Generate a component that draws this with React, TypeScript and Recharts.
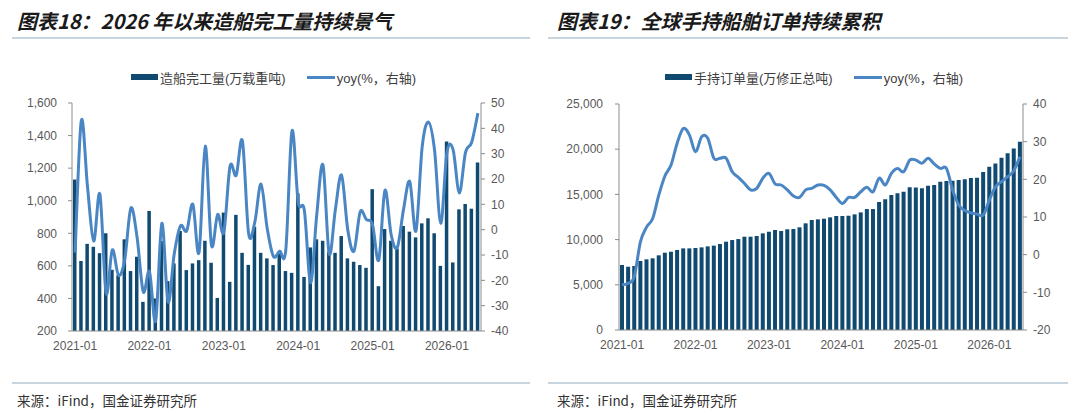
import React from 'react';
import { ComposedChart, Bar, Line, XAxis, YAxis } from 'recharts';

// Monthly categories, 2021-01 .. 2026-06
const months = [
  '2021-01', '2021-02', '2021-03', '2021-04', '2021-05', '2021-06', '2021-07', '2021-08', '2021-09', '2021-10', '2021-11', '2021-12',
  '2022-01', '2022-02', '2022-03', '2022-04', '2022-05', '2022-06', '2022-07', '2022-08', '2022-09', '2022-10', '2022-11', '2022-12',
  '2023-01', '2023-02', '2023-03', '2023-04', '2023-05', '2023-06', '2023-07', '2023-08', '2023-09', '2023-10', '2023-11', '2023-12',
  '2024-01', '2024-02', '2024-03', '2024-04', '2024-05', '2024-06', '2024-07', '2024-08', '2024-09', '2024-10', '2024-11', '2024-12',
  '2025-01', '2025-02', '2025-03', '2025-04', '2025-05', '2025-06', '2025-07', '2025-08', '2025-09', '2025-10', '2025-11', '2025-12',
  '2026-01', '2026-02', '2026-03', '2026-04', '2026-05', '2026-06',
];

// 图表18: 造船完工量 (万载重吨) and yoy (%)
const completionVolume = [
  1130, 630, 735, 717, 678, 800, 576, 543, 763, 568, 656, 379,
  937, 400, 752, 506, 615, 814, 574, 615, 635, 754, 619, 403,
  927, 502, 913, 680, 606, 840, 680, 646, 605, 674, 568, 557,
  1045, 532, 713, 763, 754, 687, 680, 783, 646, 625, 605, 588,
  1071, 475, 826, 754, 707, 845, 810, 775, 861, 892, 800, 600,
  1364, 621, 947, 980, 951, 1234,
];
const completionYoy = [
  -9, 43, 17, -4.5, 14, -25, -8, -18, -12, 8.5, -3, -24.5,
  -16.5, -36, 2.5, -28.5, -9.5, 1.5, -0.5, 10, -9, 33, -6, 6,
  -1, 25, 21.5, 35, -1.5, 3, 18, 0.5, -10.5, -8.5, -8, 39,
  11, 7.5, -21, 6, 25.5, -9.5, 8, 21.5, 0, -8.5, 7, 4,
  2, -12, 15.5, -2, -7, 8, 19, -0.5, 32.5, 42.5, 31.5, 2.5,
  30.5, 31.5, 14.5, 30.5, 34.5, 46,
];

// 图表19: 手持订单量 (万修正总吨) and yoy (%)
const orderbook = [
  7190, 7000, 7080, 7630, 7820, 7930, 8260, 8550, 8660, 8850, 9030, 9030,
  9070, 9140, 9250, 9330, 9510, 9770, 9950, 10060, 10320, 10320, 10400, 10690,
  10870, 11060, 10950, 11140, 11170, 11360, 11800, 12170, 12240, 12310, 12460, 12610,
  12610, 12640, 12790, 13010, 13380, 13380, 14160, 14450, 14930, 15120, 15300, 15780,
  15750, 15670, 15960, 16040, 16400, 16480, 16510, 16590, 16670, 16810, 16840, 17470,
  18060, 18430, 19060, 19540, 20090, 20830,
];
const orderbookYoy = [
  -8, -7.6, -5.8, 3.4, 7.3, 9.6, 15.8, 20.9, 23.8, 29.6, 33.5, 31.8,
  27.3, 31.3, 30.9, 25.6, 25.6, 25.6, 22, 20.5, 18.9, 17.2, 17.6, 20.3,
  21.6, 18.8, 18.5, 17.2, 15.6, 15.2, 17.2, 17.6, 18.5, 18.4, 17.2, 15.2,
  13.6, 15.2, 15.2, 16.7, 17.9, 16.7, 20.3, 18.5, 21.6, 22.9, 22, 25.1,
  25.1, 24.3, 25.6, 24.1, 22.9, 22.9, 17.2, 13.2, 11.7, 11.1, 10.8, 10.5,
  14.5, 18, 19.4, 20.7, 22.3, 26,
];

const completionTicks = [200, 400, 600, 800, 1000, 1200, 1400, 1600];
const completionYoyTicks = [-40, -30, -20, -10, 0, 10, 20, 30, 40, 50];
const orderbookTicks = [0, 5000, 10000, 15000, 20000, 25000];
const orderbookYoyTicks = [-20, -10, 0, 10, 20, 30, 40];

const BAR = '#114a70';
const LINE = '#4a86c4';
const AXIS = '#8c8c8c';
const TICK = { fill: '#595959', fontSize: 12, fontFamily: '"Liberation Sans", Arial, sans-serif' };
const CJK = '"Liberation Sans", "Noto Sans CJK SC", sans-serif';

const completionData = months.map((m, i) => ({ month: m, value: completionVolume[i], yoy: completionYoy[i] }));
const orderbookData = months.map((m, i) => ({ month: m, value: orderbook[i], yoy: orderbookYoy[i] }));

const fmt = (v: number) => v.toLocaleString('en-US');

// Excel-style smoothed line (Catmull-Rom through the points, 1/6 tangents)
function excelSmooth(context: any) {
  let pts: [number, number][] = [];
  return {
    areaStart() {},
    areaEnd() {},
    lineStart() {
      pts = [];
    },
    point(x: number, y: number) {
      pts.push([+x, +y]);
    },
    lineEnd() {
      if (!pts.length) return;
      context.moveTo(pts[0][0], pts[0][1]);
      for (let i = 0; i < pts.length - 1; i++) {
        const p0 = pts[i - 1] || pts[i];
        const p1 = pts[i];
        const p2 = pts[i + 1];
        const p3 = pts[i + 2] || p2;
        context.bezierCurveTo(
          p1[0] + (p2[0] - p0[0]) / 6,
          p1[1] + (p2[1] - p0[1]) / 6,
          p2[0] - (p3[0] - p1[0]) / 6,
          p2[1] - (p3[1] - p1[1]) / 6,
          p2[0],
          p2[1],
        );
      }
    },
  };
}

const abs = (s: React.CSSProperties): React.CSSProperties => ({ position: 'absolute', ...s });

const Legend2 = ({ x, barLabel, lineLabel, gap }: { x: number; barLabel: string; lineLabel: string; gap: number }) => (
  <div style={abs({ left: x, top: 68, height: 18, display: 'flex', alignItems: 'center', fontSize: 13, color: '#404040', fontFamily: CJK, whiteSpace: 'nowrap' })}>
    <span style={{ display: 'inline-block', width: 27, height: 6, background: BAR, marginRight: 2 }} />
    <span>{barLabel}</span>
    <span style={{ display: 'inline-block', width: 28, height: 3, background: LINE, marginLeft: gap, marginRight: 2 }} />
    <span>{lineLabel}</span>
  </div>
);

const Title = ({ x, text, lineX, lineW }: { x: number; text: string; lineX: number; lineW: number }) => (
  <>
    <div style={abs({ left: x, top: 7, fontSize: 20, fontStyle: 'italic', fontWeight: 700, color: '#1a1a1a', fontFamily: '"Noto Sans CJK SC", sans-serif', whiteSpace: 'nowrap', lineHeight: '28px' })}>
      {text}
    </div>
    <div style={abs({ left: lineX, top: 37, width: lineW, height: 2, background: '#c8d5de' })} />
    <div style={abs({ left: lineX, top: 382, width: lineW, height: 1.5, background: '#c8d5de' })} />
    <div style={abs({ left: x, top: 390, fontSize: 13.5, color: '#333', fontFamily: '"Noto Sans CJK SC", sans-serif', whiteSpace: 'nowrap', lineHeight: '20px' })}>
      来源：iFind，国金证券研究所
    </div>
  </>
);

export default function App() {
  return (
    <div style={abs({ left: 0, top: 0, width: 1080, height: 413, background: '#fff', overflow: 'hidden' })}>
      <Title x={17} text="图表18：2026 年以来造船完工量持续景气" lineX={12} lineW={518} />
      <Title x={557} text="图表19：全球手持船舶订单持续累积" lineX={548} lineW={520} />
      <Legend2 x={131} barLabel="造船完工量(万载重吨)" lineLabel="yoy(%，右轴)" gap={21} />
      <Legend2 x={665} barLabel="手持订单量(万修正总吨)" lineLabel="yoy(%，右轴)" gap={21} />

      <div style={abs({ left: 0, top: 0 })}>
        <ComposedChart width={540} height={413} data={completionData} margin={{ top: 103, right: 0, bottom: 52, left: 0 }}>
          <XAxis dataKey="month" interval={11} tick={TICK} tickLine={false} tickSize={0} tickMargin={10} axisLine={{ stroke: AXIS }} height={30} />
          <YAxis yAxisId="left" domain={[200, 1600]} ticks={completionTicks} tickFormatter={fmt} tick={TICK} width={72} tickSize={4} tickMargin={11} axisLine={{ stroke: AXIS }} tickLine={{ stroke: AXIS }} />
          <YAxis yAxisId="right" orientation="right" domain={[-40, 50]} ticks={completionYoyTicks} tick={TICK} width={59} tickSize={4} tickMargin={6} axisLine={{ stroke: AXIS }} tickLine={{ stroke: AXIS }} />
          <Bar yAxisId="left" dataKey="value" fill={BAR} barSize={3.5} isAnimationActive={false} />
          <Line yAxisId="right" dataKey="yoy" type={excelSmooth as any} stroke={LINE} strokeWidth={3} dot={false} isAnimationActive={false} />
        </ComposedChart>
      </div>

      <div style={abs({ left: 540, top: 0 })}>
        <ComposedChart width={540} height={413} data={orderbookData} margin={{ top: 104, right: 0, bottom: 53, left: 0 }}>
          <XAxis dataKey="month" interval={11} tick={TICK} tickLine={false} tickSize={0} tickMargin={10} axisLine={{ stroke: AXIS }} height={30} />
          <YAxis yAxisId="left" domain={[0, 25000]} ticks={orderbookTicks} tickFormatter={fmt} tick={TICK} width={79} tickSize={4} tickMargin={12} axisLine={{ stroke: AXIS }} tickLine={{ stroke: AXIS }} />
          <YAxis yAxisId="right" orientation="right" domain={[-20, 40]} ticks={orderbookYoyTicks} tick={TICK} width={57} tickSize={4} tickMargin={6} axisLine={{ stroke: AXIS }} tickLine={{ stroke: AXIS }} />
          <Bar yAxisId="left" dataKey="value" fill={BAR} barSize={4} isAnimationActive={false} />
          <Line yAxisId="right" dataKey="yoy" type={excelSmooth as any} stroke={LINE} strokeWidth={3} dot={false} isAnimationActive={false} />
        </ComposedChart>
      </div>
    </div>
  );
}
